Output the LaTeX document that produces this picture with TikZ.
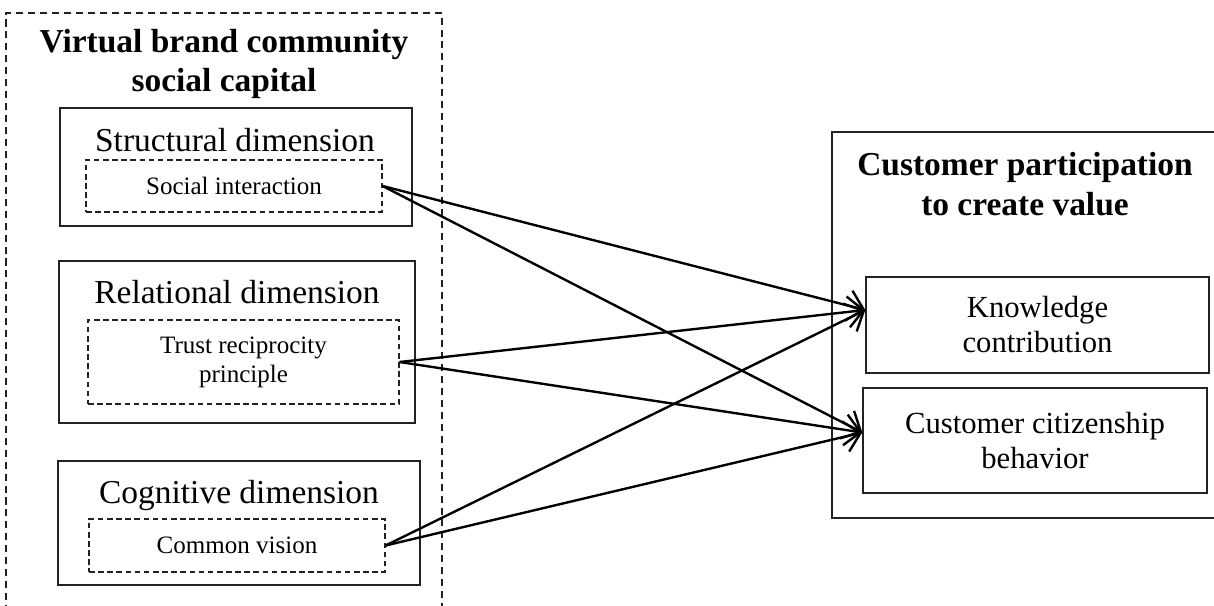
\documentclass[tikz,border=0pt]{standalone}
\usepackage{fontspec}
\setmainfont{Liberation Serif}
\usetikzlibrary{arrows.meta, positioning, calc}
\definecolor{LineDark}{HTML}{222222}
\tikzset{
  groupbox/.style={draw=LineDark, line width=0.8pt, dash pattern=on 5pt off 3.5pt},
  framebox/.style={draw=LineDark, line width=1pt},
  dimbox/.style={draw=LineDark, line width=1pt, inner sep=0pt},
  itembox/.style={draw=LineDark, line width=0.8pt, dash pattern=on 4pt off 2.5pt, inner sep=0pt, align=center, font=\fontsize{17.8}{20.6}\selectfont},
  dimtitle/.style={inner sep=0pt, font=\fontsize{23.8}{28}\selectfont},
  headtitle/.style={inner sep=0pt, align=center, font=\fontsize{23.8}{28}\selectfont\bfseries},
  outbox/.style={draw=LineDark, line width=1pt, inner sep=0pt, align=center, font=\fontsize{21.8}{24.9}\selectfont},
  arrow/.style={-{Straight Barb[length=11pt, width=22pt]}, line width=1.7pt, draw=black}
}

\begin{document}
\begin{tikzpicture}
\useasboundingbox (0,0) rectangle (30.35,-15.125);
\clip (0,0) rectangle (30.35,-15.125);

% left group: social capital
\draw[groupbox] (0.15,-15.6) -- (0.15,-0.325) -- (11.05,-0.325) -- (11.05,-15.6);
\node[headtitle] (capital) at (5.6,-1.6) {Virtual brand community\\social capital};

\node[dimbox, minimum width=8.8cm, minimum height=2.95cm] (struct) at (5.9,-4.175) {};
\node[dimtitle] (structT) at (5.875,-3.5) {Structural dimension};
\node[itembox, minimum width=7.4cm, minimum height=1.3cm] (social) at (5.85,-4.65) {Social interaction};

\node[dimbox, minimum width=8.9cm, minimum height=4.05cm] (relat) at (5.925,-8.55) {};
\node[dimtitle] (relatT) at (5.925,-7.3) {Relational dimension};
\node[itembox, minimum width=7.775cm, minimum height=2.1cm] (trust) at (6.0875,-9.05) {Trust reciprocity\\principle};

\node[dimbox, minimum width=9.05cm, minimum height=3.1cm] (cogn) at (5.975,-13.075) {};
\node[dimtitle] (cognT) at (5.975,-12.375) {Cognitive dimension};
\node[itembox, minimum width=7.4cm, minimum height=1.325cm] (vision) at (5.925,-13.6375) {Common vision};

% right group: value co-creation
\draw[framebox] (31,-3.3) -- (20.8,-3.3) -- (20.8,-12.95) -- (31,-12.95);
\node[headtitle] (value) at (25.625,-4.6) {Customer participation\\to create value};
\node[outbox, minimum width=8.575cm, minimum height=2.4cm] (know) at (25.9375,-8.125) {Knowledge\\contribution};
\node[outbox, minimum width=8.6cm, minimum height=2.625cm] (citz) at (25.875,-11.0125) {Customer citizenship\\behavior};

\draw[arrow] (social.east) -- ([yshift=0.375cm]know.west);
\draw[arrow] (social.east) -- ([yshift=0.2cm]citz.west);
\draw[arrow] (trust.east) -- ([yshift=0.375cm]know.west);
\draw[arrow] (trust.east) -- ([yshift=0.2cm]citz.west);
\draw[arrow] (vision.east) -- ([yshift=0.375cm]know.west);
\draw[arrow] (vision.east) -- ([yshift=0.2cm]citz.west);
\end{tikzpicture}
\end{document}
